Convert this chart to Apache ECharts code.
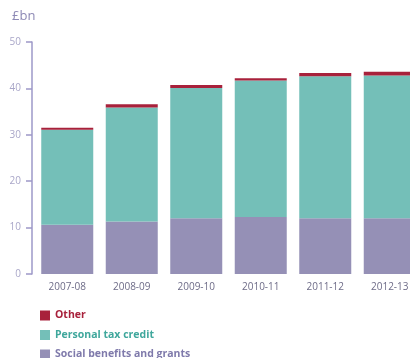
<!DOCTYPE html>
<html><head><meta charset="utf-8">
<script src="https://cdn.jsdelivr.net/npm/echarts@6/dist/echarts.min.js"></script>
<style>html,body{margin:0;padding:0;background:#fff}#c{width:410px;height:358px}</style>
</head><body><div id="c"></div>
<script>
const categories = ['2007-08','2008-09','2009-10','2010-11','2011-12','2012-13'];
const socialBenefits = [10.6, 11.3, 12.0, 12.3, 12.0, 12.0];
const personalTaxCredit = [20.5, 24.6, 28.1, 29.4, 30.6, 30.8];
const other = [0.4, 0.7, 0.65, 0.5, 0.7, 0.8];
const yTicks = [0, 10, 20, 30, 40, 50];

const cSocial = '#9590b6', cPtc = '#74bfb8', cOther = '#a8213b';
const chart = echarts.init(document.getElementById('c'));
chart.setOption({
  animation: false,
  title: { text: '£bn', left: 7, top: 5, textStyle: { fontFamily: 'Open Sans', fontSize: 13, fontWeight: 'normal', color: '#8d89b5' } },
  grid: { left: 35, width: 387, top: 42, bottom: 84, outerBoundsMode: 'none', containLabel: false },
  legend: {
    orient: 'vertical', left: 40, top: 310, height: 60, padding: 0, itemWidth: 10, itemHeight: 10, itemGap: 8.5,
    icon: 'rect',
    textStyle: { fontFamily: 'Open Sans', fontSize: 10.5, fontWeight: 'bold', lineHeight: 10 },
    data: [
      { name: 'Other', textStyle: { color: cOther } },
      { name: 'Personal tax credit', textStyle: { color: '#3fa79c' } },
      { name: 'Social benefits and grants', textStyle: { color: '#7f7aab' } }
    ]
  },
  xAxis: {
    type: 'category', data: categories,
    axisLine: { show: false }, axisTick: { show: false },
    axisLabel: { fontFamily: 'Open Sans', fontSize: 10, color: '#6e6c88', margin: 8 }
  },
  yAxis: {
    type: 'value', min: yTicks[0], max: yTicks[yTicks.length - 1], interval: 10, offset: 3,
    axisLine: { show: true, lineStyle: { color: '#9d98c8', width: 1.5 } },
    axisTick: { show: true, length: 6, lineStyle: { color: '#9d98c8', width: 1.5 } },
    splitLine: { show: false },
    axisLabel: { fontFamily: 'Open Sans', fontSize: 10, color: '#a9a6c8', margin: 11 }
  },
  series: [
    { name: 'Social benefits and grants', type: 'bar', stack: 't', data: socialBenefits, barWidth: 52, itemStyle: { color: cSocial } },
    { name: 'Personal tax credit', type: 'bar', stack: 't', data: personalTaxCredit, barWidth: 52, itemStyle: { color: cPtc } },
    { name: 'Other', type: 'bar', stack: 't', data: other, barWidth: 52, itemStyle: { color: cOther } }
  ]
});
</script></body></html>
